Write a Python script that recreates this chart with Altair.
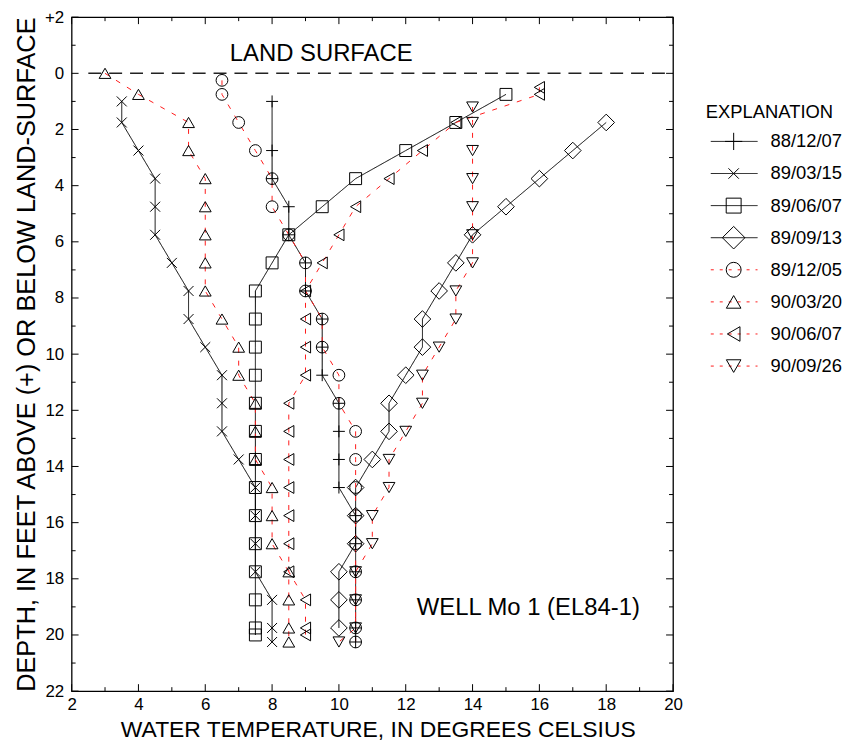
import altair as alt
import pandas as pd

FONT = "Liberation Sans"

dates = ["88/12/07", "89/03/15", "89/06/07", "89/09/13",
         "89/12/05", "90/03/20", "90/06/07", "90/09/26"]

# ---- series values (depth in feet below land surface, temperature in deg C)
s1_depth = [1.0, 2.75, 3.75, 4.75, 5.75, 6.75, 7.75, 8.75, 9.75, 10.75, 11.75, 12.75,
            13.75, 14.75, 15.75, 16.75, 17.75, 18.75, 19.75, 20.25]
s1_temp = [8.0, 8.0, 8.0, 8.5, 8.5, 9.0, 9.0, 9.5, 9.5, 9.5, 10.0, 10.0,
           10.0, 10.0, 10.5, 10.5, 10.5, 10.5, 10.5, 10.5]

s2_depth = [1.0, 1.75, 2.75, 3.75, 4.75, 5.75, 6.75, 7.75, 8.75, 9.75, 10.75, 11.75,
            12.75, 13.75, 14.75, 15.75, 16.75, 17.75, 18.75, 19.75, 20.25]
s2_temp = [3.5, 3.5, 4.0, 4.5, 4.5, 4.5, 5.0, 5.5, 5.5, 6.0, 6.5, 6.5,
           6.5, 7.0, 7.5, 7.5, 7.5, 7.5, 8.0, 8.0, 8.0]

s3_depth = [0.75, 1.75, 2.75, 3.75, 4.75, 5.75, 6.75, 7.75, 8.75, 9.75, 10.75, 11.75,
            12.75, 13.75, 14.75, 15.75, 16.75, 17.75, 18.75, 19.75, 20.0]
s3_temp = [15.0, 13.5, 12.0, 10.5, 9.5, 8.5, 8.0, 7.5, 7.5, 7.5, 7.5, 7.5,
           7.5, 7.5, 7.5, 7.5, 7.5, 7.5, 7.5, 7.5, 7.5]

s4_depth = [1.75, 2.75, 3.75, 4.75, 5.75, 6.75, 7.75, 8.75, 9.75, 10.75, 11.75, 12.75,
            13.75, 14.75, 15.75, 16.75, 17.75, 18.75, 19.75]
s4_temp = [18.0, 17.0, 16.0, 15.0, 14.0, 13.5, 13.0, 12.5, 12.5, 12.0, 11.5, 11.5,
           11.0, 10.5, 10.5, 10.5, 10.0, 10.0, 10.0]

s5_depth = [0.25, 0.75, 1.75, 2.75, 3.75, 4.75, 5.75, 6.75, 7.75, 8.75, 9.75, 10.75,
            11.75, 12.75, 13.75, 14.75, 15.75, 16.75, 17.75, 18.75, 19.75, 20.25]
s5_temp = [6.5, 6.5, 7.0, 7.5, 8.0, 8.0, 8.5, 9.0, 9.0, 9.5, 9.5, 10.0,
           10.0, 10.5, 10.5, 10.5, 10.5, 10.5, 10.5, 10.5, 10.5, 10.5]

s6_depth = [0.0, 0.75, 1.75, 2.75, 3.75, 4.75, 5.75, 6.75, 7.75, 8.75, 9.75, 10.75,
            11.75, 12.75, 13.75, 14.75, 15.75, 16.75, 17.75, 18.75, 19.75, 20.25]
s6_temp = [3.0, 4.0, 5.5, 5.5, 6.0, 6.0, 6.0, 6.0, 6.0, 6.5, 7.0, 7.0,
           7.5, 7.5, 7.5, 8.0, 8.0, 8.0, 8.5, 8.5, 8.5, 8.5]

s7_depth = [0.5, 0.75, 1.75, 2.75, 3.75, 4.75, 5.75, 6.75, 7.75, 8.75, 9.75, 10.75,
            11.75, 12.75, 13.75, 14.75, 15.75, 16.75, 17.75, 18.75, 19.75, 20.0]
s7_temp = [16.0, 16.0, 13.5, 12.5, 11.5, 10.5, 10.0, 9.5, 9.0, 9.0, 9.0, 9.0,
           8.5, 8.5, 8.5, 8.5, 8.5, 8.5, 8.5, 9.0, 9.0, 9.0]

s8_depth = [1.2, 1.75, 2.75, 3.75, 4.75, 5.75, 6.75, 7.75, 8.75, 9.75, 10.75, 11.75,
            12.75, 13.75, 14.75, 15.75, 16.75, 17.75, 18.75, 19.75, 20.25]
s8_temp = [14.0, 14.0, 14.0, 14.0, 14.0, 14.0, 14.0, 13.5, 13.5, 13.0, 12.5, 12.5,
           12.0, 11.5, 11.5, 11.0, 11.0, 10.5, 10.5, 10.5, 10.0]

series_depths = [s1_depth, s2_depth, s3_depth, s4_depth, s5_depth, s6_depth, s7_depth, s8_depth]
series_temps = [s1_temp, s2_temp, s3_temp, s4_temp, s5_temp, s6_temp, s7_temp, s8_temp]

x_major = [2, 4, 6, 8, 10, 12, 14, 16, 18, 20]
x_minor = [3, 5, 7, 9, 11, 13, 15, 17, 19]
y_major = [-2, 0, 2, 4, 6, 8, 10, 12, 14, 16, 18, 20, 22]
y_minor = [-1, 1, 3, 5, 7, 9, 11, 13, 15, 17, 19, 21]

# ---- styles
PLUS = "M-1,0L1,0M0,-1L0,1"
CROSS = "M-1,-1L1,1M-1,1L1,-1"
shapes = [PLUS, CROSS, "square", "diamond", "circle",
          "triangle-up", "triangle-left", "triangle-down"]
marker_size = dict(zip(dates, [144, 100, 144, 280, 140, 140, 140, 140]))
legend_marker_size = dict(zip(dates, [300, 110, 225, 515, 225, 215, 215, 215]))
line_colors = ["black"] * 4 + ["#ff1a1a"] * 4
dashes = [[1, 0]] * 4 + [[5, 8]] * 4
legend_dashes = [[1, 0]] * 4 + [[3, 6]] * 4

rows = []
for name, ds, ts in zip(dates, series_depths, series_temps):
    for i, (d, t) in enumerate(zip(ds, ts)):
        rows.append({"series": name, "depth": d, "temp": t, "idx": i,
                     "msize": marker_size[name]})
df = pd.DataFrame(rows)

W, H = 605, 678
xscale = alt.Scale(domain=[2, 20], nice=False, zero=False)
yscale = alt.Scale(domain=[-2, 22], reverse=True, nice=False, zero=False)
X_AX = alt.Axis(values=x_major, title="WATER TEMPERATURE, IN DEGREES CELSIUS",
                labelFontSize=17, labelPadding=5, titleFontSize=23, titlePadding=7,
                titleX=308, labelOverlap=False, labelFlush=False)
Y_AX = alt.Axis(values=y_major, title="DEPTH, IN FEET ABOVE (+) OR BELOW LAND-SURFACE",
                labelFontSize=17, labelPadding=8, titleFontSize=25.5, titlePadding=5,
                labelOverlap=False, labelFlush=False,
                labelExpr="datum.value < 0 ? '+' + (-datum.value) : datum.label")

def X(field):
    return alt.X(field, type="quantitative", scale=xscale, axis=X_AX)

def Y(field):
    return alt.Y(field, type="quantitative", scale=yscale, axis=Y_AX)

series_color = alt.Color("series:N", scale=alt.Scale(domain=dates, range=line_colors), legend=None)
series_shape = alt.Shape("series:N", scale=alt.Scale(domain=dates, range=shapes), legend=None)

base = alt.Chart(df)
lines = base.mark_line(strokeWidth=1).encode(
    x=X("temp"), y=Y("depth"),
    color=series_color,
    strokeDash=alt.StrokeDash("series:N", scale=alt.Scale(domain=dates, range=dashes), legend=None),
    detail="series:N",
    order="idx:Q",
)
points = base.mark_point(filled=False, opacity=1, strokeWidth=1, color="black").encode(
    x=X("temp"), y=Y("depth"),
    shape=series_shape,
    size=alt.Size("msize:Q", scale=None, legend=None),
)

# land surface dashed line
land_df = pd.DataFrame({"x": [2.5], "x2": [20.0], "y": [0.0]})
land = alt.Chart(land_df).mark_rule(strokeDash=[13, 8], strokeWidth=1.6, color="#222").encode(
    x=X("x"), x2="x2:Q", y=Y("y"))

notes_df = pd.DataFrame({"t": ["LAND SURFACE"], "x": [9.47], "y": [-0.7]})
note1 = alt.Chart(notes_df).mark_text(font=FONT, fontSize=24, align="center",
                                      baseline="middle", color="black").encode(
    x=X("x"), y=Y("y"), text="t:N")
well_df = pd.DataFrame({"t": ["WELL Mo 1 (EL84-1)"], "x": [12.33], "y": [19.05]})
note2 = alt.Chart(well_df).mark_text(font=FONT, fontSize=24, align="left",
                                     baseline="middle", color="black").encode(
    x=X("x"), y=Y("y"), text="t:N")

# inward ticks on all four sides
def xticks(vals, L):
    d = pd.DataFrame({"v": vals})
    bot = alt.Chart(d).mark_rule(color="black", strokeWidth=1).encode(
        x=X("v"), y=alt.value(H), y2=alt.value(H - L))
    top = alt.Chart(d).mark_rule(color="black", strokeWidth=1).encode(
        x=X("v"), y=alt.value(0), y2=alt.value(L))
    return [bot, top]

def yticks(vals, L):
    d = pd.DataFrame({"v": vals})
    left = alt.Chart(d).mark_rule(color="black", strokeWidth=1).encode(
        y=Y("v"), x=alt.value(0), x2=alt.value(L))
    right = alt.Chart(d).mark_rule(color="black", strokeWidth=1).encode(
        y=Y("v"), x=alt.value(W - L), x2=alt.value(W))
    return [left, right]

tick_layers = xticks(x_major, 7) + xticks(x_minor, 4) + yticks(y_major, 7) + yticks(y_minor, 4)

main = alt.layer(land, *tick_layers, lines, points, note1, note2)

# ---- explanation (legend)
leg_df = pd.DataFrame({"series": dates, "i": list(range(len(dates))),
                       "msize": [legend_marker_size[d] for d in dates]})
LY = alt.Y("i:Q", scale=alt.Scale(domain=[0, 7], range=[125, 351]), axis=None)
leg_base = alt.Chart(leg_df)
leg_line = leg_base.mark_rule(strokeWidth=1).encode(
    x=alt.value(643), x2=alt.value(690), y=LY,
    color=series_color,
    strokeDash=alt.StrokeDash("series:N", scale=alt.Scale(domain=dates, range=legend_dashes), legend=None),
)
leg_pt = leg_base.mark_point(filled=False, opacity=1, strokeWidth=1, color="black").encode(
    x=alt.value(666), y=LY, shape=series_shape,
    size=alt.Size("msize:Q", scale=None, legend=None),
)
leg_txt = leg_base.mark_text(font=FONT, fontSize=18.5, align="left", baseline="middle",
                             color="black").encode(
    x=alt.value(703), y=LY, text="series:N")
title_df = pd.DataFrame({"t": ["EXPLANATION"]})
leg_title = alt.Chart(title_df).mark_text(font=FONT, fontSize=18.5, align="left",
                                          baseline="middle", color="black").encode(
    x=alt.value(638), y=alt.value(95), text="t:N")

legend = alt.layer(leg_line, leg_pt, leg_txt, leg_title)

chart = alt.layer(main, legend).resolve_scale(
    y="independent", strokeDash="independent"
).properties(
    width=W, height=H,
    autosize=alt.AutoSizeParams(type="none"),
    padding={"left": 64, "top": 7, "right": 172, "bottom": 57},
).configure_view(
    stroke="black", strokeWidth=1.3
).configure_axis(
    grid=False, domain=False, ticks=False,
    labelFont=FONT, titleFont=FONT, labelColor="black", titleColor="black",
    titleFontWeight="normal",
)

chart.save("out.html", embed_options={"renderer": "svg", "actions": False})
